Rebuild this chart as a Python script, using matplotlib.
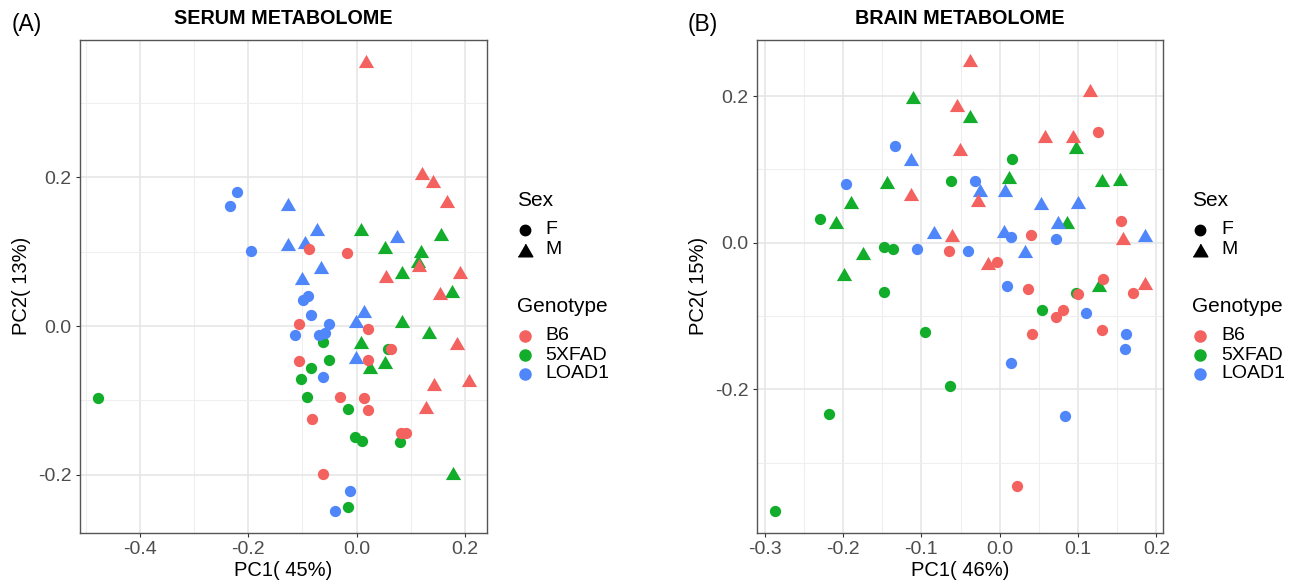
import matplotlib
matplotlib.use("Agg")
import matplotlib.pyplot as plt
from matplotlib.lines import Line2D
from matplotlib.ticker import MultipleLocator
import numpy as np

plt.rcParams['font.family'] = ['Liberation Sans', 'DejaVu Sans']

# ---- serum metabolome (panel A) ----
serum_pc1 = [0.0166, 0.120, 0.141, 0.1667, 0.1144, 0.1907, 0.0547, 0.1538, 0.1845, 0.2079, 0.1427, 0.1273,
             -0.0886, -0.0178, -0.107, 0.0209, 0.0627, -0.107, 0.0203, -0.0308, 0.0135, 0.0215, -0.0824, 0.0824, 0.091, -0.0627,
             0.0086, 0.1556, 0.0517, 0.1193, 0.1125, 0.0836, 0.1759, 0.0836, 0.1328, 0.0074, 0.0517, 0.0246, 0.1784,
             -0.0615, 0.0584, -0.0517, -0.0843, -0.1033, -0.4772, -0.0923, -0.0154, -0.0031, 0.0105, 0.08, -0.0166,
             -0.126, -0.0738, 0.0744, -0.1273, -0.0953, -0.0652, -0.1015, 0.0141, -0.0018, -0.0018,
             -0.220, -0.2337, -0.1943, -0.0892, -0.0984, -0.0849, -0.0517, -0.1144, -0.0689, -0.0584, -0.0615, -0.0117, -0.0406]
serum_pc2 = [0.3565, 0.206, 0.1955, 0.168, 0.082, 0.0731, 0.0673, 0.0448, -0.0233, -0.0726, -0.0785, -0.1085,
             0.103, 0.0987, 0.0022, -0.004, -0.031, -0.0471, -0.0457, -0.0951, -0.0973, -0.113, -0.1256, -0.1444, -0.1435, -0.1991,
             0.131, 0.1238, 0.1063, 0.1013, 0.0874, 0.0722, 0.0475, 0.0072, -0.0076, -0.0211, -0.0484, -0.0556, -0.1982,
             -0.0211, -0.031, -0.0457, -0.0565, -0.0713, -0.0973, -0.0951, -0.1117, -0.1489, -0.1547, -0.1556, -0.2439,
             0.164, 0.131, 0.1215, 0.110, 0.1126, 0.0798, 0.0641, 0.0206, 0.0063, -0.0413,
             0.1807, 0.161, 0.1013, 0.0408, 0.035, 0.0152, 0.0022, -0.0117, -0.0121, -0.009, -0.069, -0.2215, -0.2484]
serum_geno = ['B6'] * 26 + ['5XFAD'] * 25 + ['LOAD1'] * 23
serum_sex = ['M'] * 12 + ['F'] * 14 + ['M'] * 13 + ['F'] * 12 + ['M'] * 10 + ['F'] * 13

# ---- brain metabolome (panel B) ----
brain_pc1 = [-0.0374, 0.1151, -0.0548, 0.0582, 0.0934, -0.0505, -0.113, -0.0272, -0.0603, 0.158, -0.0144, 0.1856,
             0.1261, 0.1554, 0.0403, -0.0645, -0.0034, 0.1321, 0.0365, 0.1002, 0.1699, 0.0713, 0.0811, 0.1308, 0.0416, 0.0221,
             -0.1108, -0.0374, 0.0972, -0.144, 0.0123, 0.1312, 0.1541, -0.1898, -0.2085, 0.0854, -0.1745, -0.1992, 0.127,
             0.0161, -0.062, -0.2297, -0.1478, -0.1359, -0.1482, 0.0968, 0.0535, -0.096, -0.0637, -0.2183, -0.2875,
             -0.113, -0.0246, 0.0072, 0.0522, 0.1006, 0.0743, -0.0837, 0.0055, 0.1856, 0.0327,
             -0.1342, -0.031, -0.1962, 0.014, 0.0713, -0.1062, -0.0408, 0.0098, 0.11, 0.1618, 0.1597, 0.014, 0.0837]
brain_pc2 = [0.249, 0.208, 0.1877, 0.1455, 0.1455, 0.1273, 0.0664, 0.0582, 0.0105, 0.0059, -0.0282, -0.0545,
             0.1509, 0.03, 0.0105, -0.0109, -0.0259, -0.0491, -0.0632, -0.07, -0.0682, -0.1009, -0.0918, -0.1191, -0.1245, -0.3318,
             0.199, 0.1727, 0.1309, 0.0832, 0.09, 0.0855, 0.0864, 0.0559, 0.0286, 0.0286, -0.0145, -0.0427, -0.0577,
             0.1141, 0.0841, 0.0318, -0.0064, -0.0091, -0.0668, -0.0682, -0.0918, -0.1223, -0.1955, -0.2336, -0.3655,
             0.1136, 0.0718, 0.0718, 0.0545, 0.0559, 0.0286, 0.0141, 0.0159, 0.0105, -0.0109,
             0.1318, 0.0841, 0.08, 0.0082, 0.005, -0.0086, -0.0109, -0.0591, -0.0964, -0.1245, -0.1445, -0.1636, -0.2364]
brain_geno = ['B6'] * 26 + ['5XFAD'] * 25 + ['LOAD1'] * 23
brain_sex = ['M'] * 12 + ['F'] * 14 + ['M'] * 13 + ['F'] * 12 + ['M'] * 10 + ['F'] * 13

genotypes = ['B6', '5XFAD', 'LOAD1']
geno_colors = {'B6': '#F3625E', '5XFAD': '#13AD2C', 'LOAD1': '#4F86FA'}
tri = [(-1, -0.866), (1, -0.866), (0, 0.866)]
sex_markers = {'F': 'o', 'M': tri}
sex_sizes = {'F': 66, 'M': 120}

W, H = 1293, 585
fig = plt.figure(figsize=(W / 100, H / 100), dpi=100)


def fx(x):
    return x / W


def fy(y):
    return 1 - y / H


def panel(rect, pc1, pc2, geno, sex, xlim, ylim, xmaj, xmin, title, xlabel, ylabel, tag, legx):
    ax = fig.add_axes(rect)
    pc1 = np.array(pc1)
    pc2 = np.array(pc2)
    geno = np.array(geno)
    sex = np.array(sex)
    for g in ['5XFAD', 'LOAD1', 'B6']:
        for s in ['F', 'M']:
            m = (geno == g) & (sex == s)
            ax.scatter(pc1[m], pc2[m], s=sex_sizes[s], marker=sex_markers[s],
                       color=geno_colors[g], linewidths=0, zorder=3)
    ax.set_xlim(*xlim)
    ax.set_ylim(*ylim)
    ax.xaxis.set_major_locator(MultipleLocator(xmaj))
    ax.xaxis.set_minor_locator(MultipleLocator(xmin))
    ax.yaxis.set_major_locator(MultipleLocator(0.2))
    ax.yaxis.set_minor_locator(MultipleLocator(0.1))
    ax.grid(which='major', color='#E6E6E6', lw=1.2, zorder=0)
    ax.grid(which='minor', color='#EFEFEF', lw=0.8, zorder=0)
    ax.set_axisbelow(True)
    for sp in ax.spines.values():
        sp.set_color('#555555')
        sp.set_linewidth(1.0)
    ax.tick_params(which='major', length=3, width=0.8, color='#333333',
                   labelsize=14, labelcolor='#4D4D4D', pad=3)
    ax.tick_params(which='minor', length=0)
    ax.xaxis.set_major_formatter(plt.FuncFormatter(lambda v, p: f'{v:.1f}'.replace('-0.0', '0.0')))
    ax.yaxis.set_major_formatter(plt.FuncFormatter(lambda v, p: f'{v:.1f}'.replace('-0.0', '0.0')))
    ax.set_xlabel(xlabel, fontsize=14.5, labelpad=2)
    ax.set_ylabel(ylabel, fontsize=14.5, labelpad=5)

    cx = rect[0] + rect[2] / 2
    fig.text(cx, fy(19), title, ha='center', va='center', fontsize=14.2, fontweight='bold')
    fig.text(fx(tag[0]), fy(24), tag[1], ha='left', va='center', fontsize=16.5)

    # legend: Sex and Genotype keys
    tx, mx, lx = legx
    fig.text(fx(tx), fy(201), 'Sex', ha='left', va='center', fontsize=15)
    for s, yy in zip(['F', 'M'], [230, 250]):
        fig.add_artist(Line2D([fx(mx)], [fy(yy)], marker=sex_markers[s], color='black',
                              markersize=7.5 if s == 'F' else 10.5, linestyle='none',
                              transform=fig.transFigure))
        fig.text(fx(lx), fy(yy), s, ha='left', va='center', fontsize=14)
    fig.text(fx(tx), fy(307), 'Genotype', ha='left', va='center', fontsize=15)
    for g, yy in zip(genotypes, [336, 355, 374]):
        fig.add_artist(Line2D([fx(mx)], [fy(yy)], marker='o', color=geno_colors[g],
                              markersize=8, linestyle='none', transform=fig.transFigure))
        fig.text(fx(lx), fy(yy), g, ha='left', va='center', fontsize=14)
    return ax


bottom = fy(532.7)
height = 492.7 / H
panel([fx(80), bottom, 407 / W, height], serum_pc1, serum_pc2, serum_geno, serum_sex,
      (-0.5105, 0.2404), (-0.278, 0.3848), 0.2, 0.1,
      'SERUM METABOLOME', 'PC1( 45%)', 'PC2( 13%)', (12, '(A)'), (517, 525, 545))
panel([fx(756.7), bottom, (1163 - 756.7) / W, height], brain_pc1, brain_pc2, brain_geno, brain_sex,
      (-0.3103, 0.2085), (-0.3955, 0.2764), 0.1, 0.05,
      'BRAIN METABOLOME', 'PC1( 46%)', 'PC2( 15%)', (688, '(B)'), (1192, 1200, 1221))

fig.savefig('out.png', dpi=100, facecolor='white')
